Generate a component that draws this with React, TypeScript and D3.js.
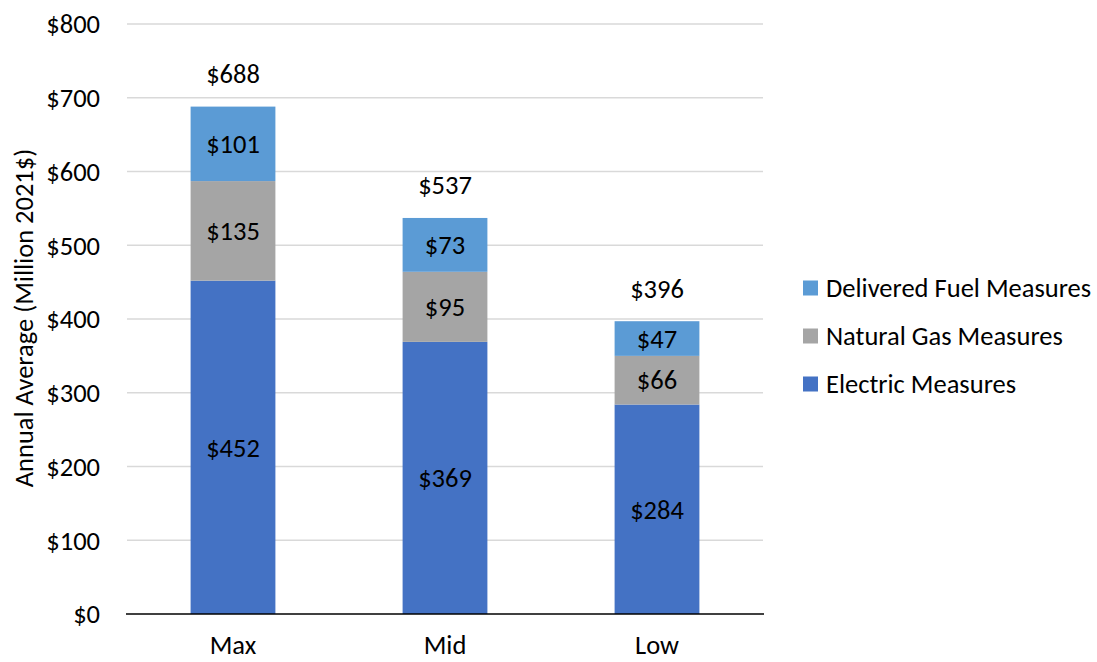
import React from "react";
import * as d3 from "d3";

const categories = ["Max", "Mid", "Low"];
const seriesNames = ["Electric Measures", "Natural Gas Measures", "Delivered Fuel Measures"];
const electric = [452, 369, 284];
const naturalGas = [135, 95, 66];
const deliveredFuel = [101, 73, 47];
const totals = [688, 537, 396];
const yTicks = [0, 100, 200, 300, 400, 500, 600, 700, 800];
const colors = ["#4472C4", "#A5A5A5", "#5B9BD5"];

const W = 1097, H = 662;
const FONT = "Carlito, Calibri, Lato, sans-serif";
const FS = 26.5;

export default function App() {
  const x = d3.scaleBand().domain(categories).range([127, 763]).paddingInner(0.6).paddingOuter(0.3);
  const y = d3.scaleLinear().domain([0, 800]).range([614, 24]);
  const series = [electric, naturalGas, deliveredFuel];
  const stackData = categories.map((c, i) => ({ cat: c, e: electric[i], n: naturalGas[i], d: deliveredFuel[i] }));
  const stacked = d3.stack<any>().keys(["e", "n", "d"])(stackData);
  const legendOrder = [2, 1, 0];
  return (
    <svg width={W} height={H} style={{ position: "absolute", left: 0, top: 0, fontFamily: FONT }}>
      <rect width={W} height={H} fill="#fff" />
      {yTicks.map((t) => (
        <g key={t}>
          {t > 0 && <line x1={127} x2={763} y1={y(t)} y2={y(t)} stroke="#d9d9d9" strokeWidth={1.3} />}
          <text x={100} y={y(t)} dy="0.35em" textAnchor="end" fontSize={FS} fill="#000">${t}</text>
        </g>
      ))}
      {stacked.map((s, si) =>
        s.map((d, i) => (
          <g key={si + "-" + i}>
            <rect x={x(categories[i])!} width={x.bandwidth()} y={y(d[1])} height={y(d[0]) - y(d[1])} fill={colors[si]} />
            <text x={x(categories[i])! + x.bandwidth() / 2} y={(y(d[0]) + y(d[1])) / 2} dy="0.35em" textAnchor="middle" fontSize={FS} fill="#000">
              ${series[si][i]}
            </text>
          </g>
        ))
      )}
      {categories.map((c, i) => (
        <g key={c}>
          <text x={x(c)! + x.bandwidth() / 2} y={y(totals[i]) - 33} dy="0.35em" textAnchor="middle" fontSize={FS} fill="#000">${totals[i]}</text>
          <text x={x(c)! + x.bandwidth() / 2} y={645} dy="0.35em" textAnchor="middle" fontSize={FS} fill="#000">{c}</text>
        </g>
      ))}
      <line x1={126} x2={764} y1={y(0)} y2={y(0)} stroke="#000" strokeWidth={1.5} />
      <text transform={`translate(24,${y(400) - 1}) rotate(-90)`} textAnchor="middle" dy="0.35em" fontSize={FS} fill="#000">
        Annual Average (Million 2021$)
      </text>
      {legendOrder.map((si, k) => (
        <g key={si} transform={`translate(803,${288 + k * 48})`}>
          <rect x={0} y={-7.5} width={15} height={15} fill={colors[si]} />
          <text x={23} y={0} dy="0.35em" fontSize={FS} fill="#000">{seriesNames[si]}</text>
        </g>
      ))}
    </svg>
  );
}
